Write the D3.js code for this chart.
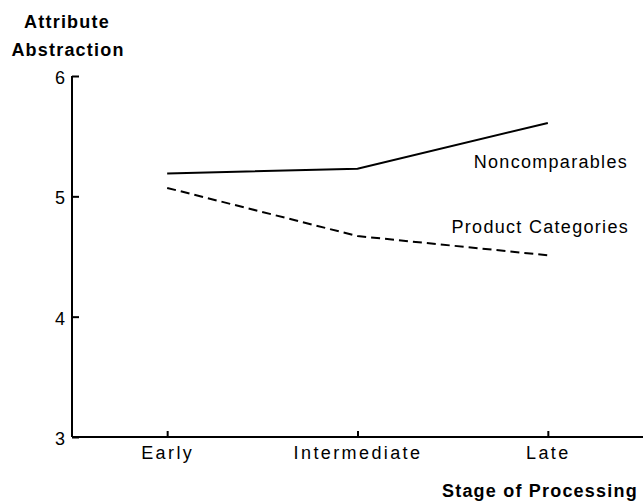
<!DOCTYPE html>
<style>
  body { margin: 0; background: #fff; }
  svg { display: block; font-family: "Liberation Sans", Arial, sans-serif; }
  .axis .domain { display: none; }
</style>
<svg width="643" height="502"></svg>
<script src="https://d3js.org/d3.v7.min.js"></script>
<script>
  var stages = ["Early", "Intermediate", "Late"];
  var noncomparables = [5.19, 5.23, 5.61];
  var productCategories = [5.07, 4.67, 4.51];
  var yTicks = [3, 4, 5, 6];

  var svg = d3.select("svg"),
    margin = {top: 76, right: 0, bottom: 65, left: 72},
    width = +svg.attr("width") - margin.left - margin.right,
    height = +svg.attr("height") - margin.top - margin.bottom,
    g = svg.append("g").attr("transform", "translate(" + margin.left + "," + margin.top + ")");

  var x = d3.scalePoint().domain(stages).range([0, width]).padding(0.5);
  var y = d3.scaleLinear().domain([3, 6]).range([height, 0]);

  // axes
  var xAxis = g.append("g")
    .attr("class", "axis")
    .attr("transform", "translate(0," + height + ")")
    .call(d3.axisBottom(x).tickSize(-6).tickPadding(20));
  xAxis.selectAll("line").attr("stroke", "#000").attr("stroke-width", 2);
  xAxis.selectAll("text")
    .attr("font-size", 18).attr("fill", "#000")
    .style("letter-spacing", "2.4px")
    .attr("dy", "0.1em");

  var yAxis = g.append("g")
    .attr("class", "axis")
    .call(d3.axisLeft(y).tickValues(yTicks).tickFormat(d3.format("d")).tickSize(-7).tickPadding(7));
  yAxis.selectAll("line").attr("stroke", "#000").attr("stroke-width", 2);
  yAxis.selectAll("text")
    .attr("font-size", 18).attr("fill", "#000")
    .attr("dy", "0.42em");

  g.append("line")
    .attr("x1", 0).attr("x2", 0)
    .attr("y1", y(6)).attr("y2", y(3))
    .attr("stroke", "#000").attr("stroke-width", 2);
  g.append("line")
    .attr("x1", 0).attr("x2", width)
    .attr("y1", y(3)).attr("y2", y(3))
    .attr("stroke", "#000").attr("stroke-width", 2);

  // lines
  var line = d3.line()
    .x(function(d, i) { return x(stages[i]); })
    .y(function(d) { return y(d); });

  g.append("path")
    .datum(noncomparables)
    .attr("fill", "none")
    .attr("stroke", "#000")
    .attr("stroke-width", 2)
    .attr("d", line);

  g.append("path")
    .datum(productCategories)
    .attr("fill", "none")
    .attr("stroke", "#000")
    .attr("stroke-width", 2)
    .attr("stroke-dasharray", "9,5")
    .attr("d", line);

  // series labels
  g.append("text")
    .attr("x", 628 - margin.left)
    .attr("y", 168 - margin.top)
    .attr("text-anchor", "end")
    .attr("font-size", 18)
    .style("letter-spacing", "1.3px")
    .text("Noncomparables");
  g.append("text")
    .attr("x", 629 - margin.left)
    .attr("y", 233 - margin.top)
    .attr("text-anchor", "end")
    .attr("font-size", 18)
    .style("letter-spacing", "1.3px")
    .text("Product Categories");

  // axis titles
  svg.append("text")
    .attr("x", 67).attr("y", 28)
    .attr("text-anchor", "middle")
    .attr("font-size", 18).attr("font-weight", "bold")
    .style("letter-spacing", "1.2px")
    .text("Attribute");
  svg.append("text")
    .attr("x", 68).attr("y", 56)
    .attr("text-anchor", "middle")
    .attr("font-size", 18).attr("font-weight", "bold")
    .style("letter-spacing", "1.2px")
    .text("Abstraction");
  svg.append("text")
    .attr("x", 442).attr("y", 497)
    .attr("font-size", 18).attr("font-weight", "bold")
    .style("letter-spacing", "1.2px")
    .text("Stage of Processing");
</script>
